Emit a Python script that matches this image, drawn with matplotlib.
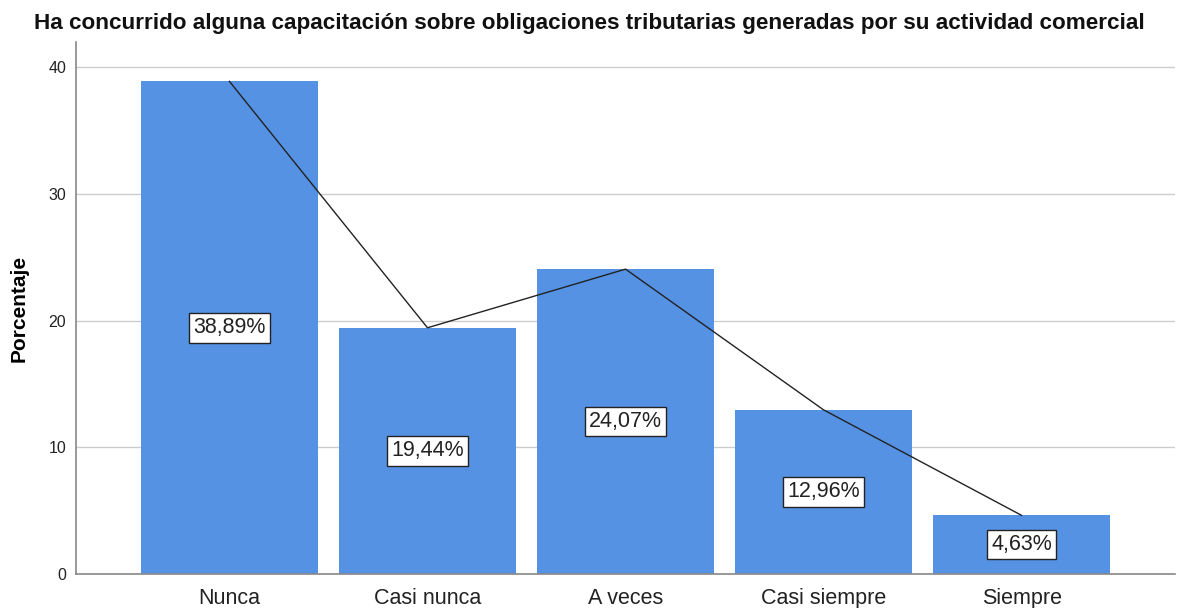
from matplotlib import pyplot as plt
import numpy

plt.rcParams['font.family'] = ['Liberation Sans', 'DejaVu Sans']

categorias = ['Nunca', 'Casi nunca', 'A veces', 'Casi siempre', 'Siempre']
porcentajes = [38.89, 19.44, 24.07, 12.96, 4.63]
etiquetas = ['38,89%', '19,44%', '24,07%', '12,96%', '4,63%']
yticks = [0, 10, 20, 30, 40]
titulo = 'Ha concurrido alguna capacitación sobre obligaciones tributarias generadas por su actividad comercial'

fig = plt.figure(figsize=(11.78, 6.08), dpi=100)
ax = fig.add_axes([0.0645, 0.0559, 0.933, 0.875])

x = numpy.arange(len(categorias))
ax.bar(x, porcentajes, width=0.894, color='#5592e4', zorder=2)
ax.plot(x, porcentajes, color='#222222', lw=1.0, zorder=3)

for xi, v, lab in zip(x, porcentajes, etiquetas):
    ax.text(xi, v / 2, lab, ha='center', va='center', fontsize=15.5,
            color='#222222', zorder=4,
            bbox=dict(boxstyle='square,pad=0.2', facecolor='white',
                      edgecolor='#222222', lw=1.0))

ax.set_xlim(-0.775, 4.775)
ax.set_ylim(0, 42)
ax.set_yticks(yticks)
ax.set_xticks(x)
ax.set_xticklabels(categorias, fontsize=15.5, color='#222222')
ax.tick_params(axis='y', labelsize=11.5, length=0, pad=7, colors='#222222')
ax.tick_params(axis='x', length=0, pad=10)
ax.yaxis.grid(True, color='#cccccc', lw=1.0, zorder=0)
ax.set_axisbelow(True)

for s in ['top', 'right']:
    ax.spines[s].set_visible(False)
for s in ['left', 'bottom']:
    ax.spines[s].set_color('#888888')
    ax.spines[s].set_linewidth(1.2)

ax.set_ylabel('Porcentaje', fontsize=15, fontweight='bold', labelpad=14)
fig.text(0.5, 0.978, titulo, ha='center', va='top', fontsize=16.2,
         fontweight='bold', color='#111111')

fig.savefig('out.png')
plt.close()
